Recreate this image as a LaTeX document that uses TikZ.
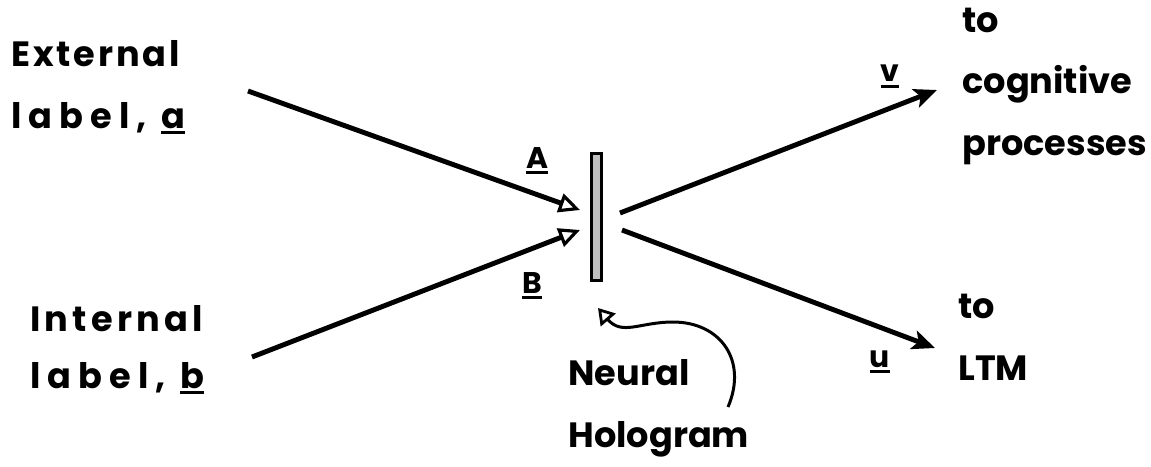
\documentclass[tikz,border=0pt]{standalone}
\usepackage{fontspec}
\setmainfont{Poppins}
\usetikzlibrary{arrows.meta, positioning}
\newcommand{\ulbar}[1]{\vtop{\hbox{#1}\kern1.5pt\hrule height 1.8pt}}

\begin{document}
\begin{tikzpicture}[
          x=0.02cm, y=-0.02cm,
          lbl/.style={font=\fontsize{20}{35}\selectfont\bfseries, align=left, anchor=base west, inner sep=0pt},
          sym/.style={font=\fontsize{17}{20}\selectfont\bfseries, anchor=base, inner sep=0pt},
          holo/.style={draw, line width=1.6pt, fill=black!25, minimum width=0.2cm, minimum height=2.55cm, inner sep=0pt},
          inarr/.style={line width=2.8pt, -{Triangle[open, length=12pt, width=11pt, line width=1.8pt]}},
          outarr/.style={line width=2.8pt, -{Stealth[length=13pt, width=11pt, inset=3pt]}},
          curvearr/.style={line width=1.7pt, -{Triangle[open, length=9pt, width=11pt, line width=1.6pt]}},
        ]
        \useasboundingbox (0,0) rectangle (1151,466);
        % text blocks: anchor sits on the baseline of the last line
        \node[lbl] (ext) at (11,128) {{\addfontfeature{LetterSpace=8}External}\\{\addfontfeature{LetterSpace=20}label, \ulbar{a}}};
        \node[lbl, font=\fontsize{20}{32}\selectfont\bfseries] (int) at (30,388) {{\addfontfeature{LetterSpace=12}Internal}\\{\addfontfeature{LetterSpace=20}label, \ulbar{b}}};
        \node[holo] (bar) at (596.5,217) {};
        \node[sym] (symA) at (537,168) {\ulbar{A}};
        \node[sym] (symB) at (532,293) {\ulbar{B}};
        \node[sym] (symv) at (890,82) {\ulbar{v}};
        \node[sym] (symu) at (880,367) {\ulbar{u}};
        \node[lbl] (cog) at (962,155) {to\\cognitive\\processes};
        \node[lbl] (ltm) at (958,380) {to\\LTM};
        \node[lbl] (neural) at (568,447) {Neural\\Hologram};
        \coordinate (extend) at (248,91);
        \coordinate (intend) at (252,357);
        \coordinate (tipA) at (580,210);
        \coordinate (tipB) at (580,230);
        \coordinate (outv) at (620,213);
        \coordinate (outu) at (622,230);
        \coordinate (tipv) at (937,90);
        \coordinate (tipu) at (935,348);
        \coordinate (holotail) at (728,407);
        \coordinate (holotip) at (598,308);
        \draw[inarr] (extend) -- (tipA);
        \draw[inarr] (intend) -- (tipB);
        \draw[outarr] (outv) -- (tipv);
        \draw[outarr] (outu) -- (tipu);
        \draw[curvearr] (holotail) .. controls (748,360) and (720,322) .. (673,322)
                                   .. controls (640,322) and (622,336) .. (holotip);
      \end{tikzpicture}
\end{document}
